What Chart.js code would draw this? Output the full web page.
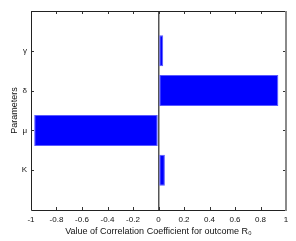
<!DOCTYPE html>
<html>
<head>
<meta charset="utf-8">
<script src="https://cdn.jsdelivr.net/npm/chart.js@4/dist/chart.umd.min.js"></script>
<style>
  html, body { margin: 0; padding: 0; background: #fff; }
  #wrap { width: 296px; height: 241px; }
</style>
</head>
<body>
<div id="wrap"><canvas id="chart" width="296" height="241"></canvas></div>
<script>
// Parameters, bottom to top (blank slots pad the axis ends)
const params = ['', 'K', 'μ', 'δ', 'γ', ''];
const corrValues = [null, 0.05, -0.975, 0.94, 0.037, null];
const xTicks = [-1, -0.8, -0.6, -0.4, -0.2, 0, 0.2, 0.4, 0.6, 0.8, 1];

const FONT = 'Liberation Sans, Arial, sans-serif';

// MATLAB style box with inward tick marks
const boxTicks = {
  id: 'boxTicks',
  afterDraw(chart) {
    const { ctx, chartArea: a, scales } = chart;
    const len = 3;
    ctx.save();
    ctx.lineWidth = 1;
    ctx.strokeStyle = '#333';
    xTicks.forEach(v => {
      const x = Math.round(scales.x.getPixelForValue(v)) + 0.5;
      ctx.beginPath();
      ctx.moveTo(x, a.bottom); ctx.lineTo(x, a.bottom - len);
      ctx.moveTo(x, a.top); ctx.lineTo(x, a.top + len);
      ctx.stroke();
    });
    for (let i = 1; i < params.length - 1; i++) {
      const y = Math.round(scales.y.getPixelForValue(i)) + 0.5;
      ctx.beginPath();
      ctx.moveTo(a.left, y); ctx.lineTo(a.left + len, y);
      ctx.moveTo(a.right, y); ctx.lineTo(a.right - len, y);
      ctx.stroke();
    }
    // box
    ctx.strokeStyle = '#222';
    ctx.beginPath();
    ctx.moveTo(a.right, a.top + 0.5); ctx.lineTo(a.left + 0.5, a.top + 0.5);
    ctx.lineTo(a.left + 0.5, a.bottom + 0.5); ctx.lineTo(a.right, a.bottom + 0.5);
    ctx.stroke();
    ctx.strokeStyle = '#8a8a8a';
    ctx.lineWidth = 2;
    ctx.beginPath();
    ctx.moveTo(a.right, a.top); ctx.lineTo(a.right, a.bottom + 1);
    ctx.stroke();
    ctx.restore();
  }
};

new Chart(document.getElementById('chart'), {
  type: 'bar',
  data: {
    labels: params,
    datasets: [{
      data: corrValues,
      backgroundColor: '#0000ff',
      borderColor: '#5a5aff',
      borderWidth: 1,
      borderSkipped: false,
      barPercentage: 1.0,
      categoryPercentage: 0.78
    }]
  },
  options: {
    indexAxis: 'y',
    responsive: false,
    animation: false,
    layout: { padding: { top: 11, right: 10, left: 0, bottom: 0 } },
    plugins: {
      legend: { display: false },
      tooltip: { enabled: false }
    },
    scales: {
      x: {
        type: 'linear',
        min: -1,
        max: 1,
        afterBuildTicks: s => { s.ticks = xTicks.map(v => ({ value: v })); },
        border: { display: false },
        grid: {
          drawTicks: false,
          color: c => c.tick && c.tick.value === 0 ? '#555' : 'rgba(0,0,0,0)',
          lineWidth: 1.5
        },
        ticks: {
          color: '#111',
          padding: 5,
          font: { family: FONT, size: 8 },
          maxRotation: 0,
          callback: v => String(Math.round(v * 10) / 10)
        },
        title: {
          display: true,
          text: 'Value of Correlation Coefficient for outcome R₀',
          color: '#111',
          font: { family: FONT, size: 9 },
          padding: { top: 1, bottom: 4 }
        },
        afterFit: s => { s.height = 31; }
      },
      y: {
        type: 'category',
        reverse: true,
        offset: false,
        border: { display: false },
        grid: { display: false, drawTicks: false },
        ticks: {
          color: '#111',
          padding: 4,
          font: { family: FONT, size: 8 },
          autoSkip: false
        },
        title: {
          display: true,
          text: 'Parameters',
          color: '#111',
          font: { family: FONT, size: 9 },
          padding: { top: 9, bottom: 2 }
        },
        afterFit: s => { s.width = 31; }
      }
    }
  },
  plugins: [boxTicks]
});
</script>
</body>
</html>
